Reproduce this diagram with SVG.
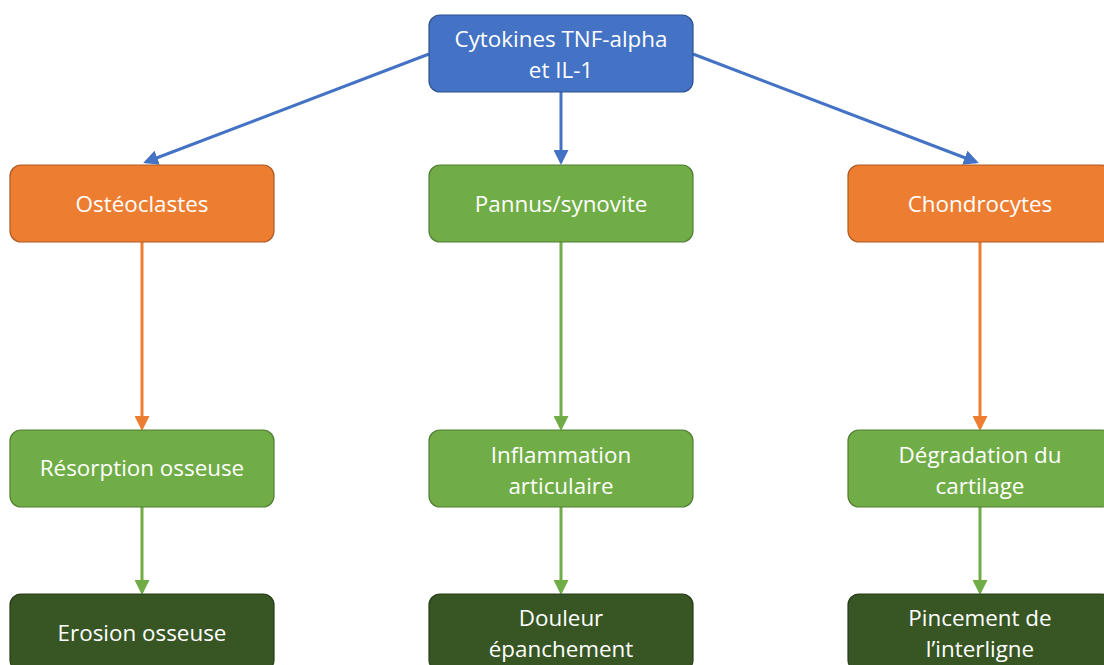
<svg xmlns="http://www.w3.org/2000/svg" width="1104" height="665" viewBox="0 0 1104 665">
<defs>
<style>
.n rect{stroke-width:1.2}
.blue{fill:#4472C4;stroke:#2F528F}
.orange{fill:#ED7D31;stroke:#AE5A21}
.green{fill:#70AD47;stroke:#507E32}
.dark{fill:#375623;stroke:#263D18}
text{font-family:"Open Sans","Liberation Sans",sans-serif;font-size:22.4px;fill:#ffffff;text-anchor:middle}
.c{fill:none;stroke-width:3}
</style>
<marker id="ab" markerWidth="5" markerHeight="5" refX="4" refY="2.5" orient="auto" markerUnits="strokeWidth"><path d="M0,0L5,2.5L0,5z" fill="#4472C4"/></marker>
<marker id="ao" markerWidth="5" markerHeight="5" refX="4" refY="2.5" orient="auto" markerUnits="strokeWidth"><path d="M0,0L5,2.5L0,5z" fill="#ED7D31"/></marker>
<marker id="ag" markerWidth="5" markerHeight="5" refX="4" refY="2.5" orient="auto" markerUnits="strokeWidth"><path d="M0,0L5,2.5L0,5z" fill="#70AD47"/></marker>
</defs>
<rect width="1104" height="665" fill="#ffffff"/>
<g id="connectors">
<path class="c" d="M429,54L146,162" stroke="#4472C4" marker-end="url(#ab)"/>
<path class="c" d="M561,92L561,162" stroke="#4472C4" marker-end="url(#ab)"/>
<path class="c" d="M693,54L976,162" stroke="#4472C4" marker-end="url(#ab)"/>
<path class="c" d="M142,242L142,428" stroke="#ED7D31" marker-end="url(#ao)"/>
<path class="c" d="M561,242L561,428" stroke="#70AD47" marker-end="url(#ag)"/>
<path class="c" d="M980,242L980,428" stroke="#ED7D31" marker-end="url(#ao)"/>
<path class="c" d="M142,507L142,592" stroke="#70AD47" marker-end="url(#ag)"/>
<path class="c" d="M561,507L561,592" stroke="#70AD47" marker-end="url(#ag)"/>
<path class="c" d="M980,507L980,592" stroke="#70AD47" marker-end="url(#ag)"/>
</g>
<g id="cytokines" class="n"><rect class="blue" x="429" y="15" width="264" height="77" rx="11"/><text x="561" y="47">Cytokines TNF-alpha</text><text x="561" y="78">et IL-1</text></g>
<g id="osteoclastes" class="n"><rect class="orange" x="10" y="165" width="264" height="77" rx="11"/><text x="142" y="212">Ostéoclastes</text></g>
<g id="pannus" class="n"><rect class="green" x="429" y="165" width="264" height="77" rx="11"/><text x="561" y="212">Pannus/synovite</text></g>
<g id="chondrocytes" class="n"><rect class="orange" x="848" y="165" width="264" height="77" rx="11"/><text x="980" y="212">Chondrocytes</text></g>
<g id="resorption" class="n"><rect class="green" x="10" y="430" width="264" height="77" rx="11"/><text x="142" y="476">Résorption osseuse</text></g>
<g id="inflammation" class="n"><rect class="green" x="429" y="430" width="264" height="77" rx="11"/><text x="561" y="463">Inflammation</text><text x="561" y="494">articulaire</text></g>
<g id="degradation" class="n"><rect class="green" x="848" y="430" width="264" height="77" rx="11"/><text x="980" y="463">Dégradation du</text><text x="980" y="494">cartilage</text></g>
<g id="erosion" class="n"><rect class="dark" x="10" y="594" width="264" height="77" rx="11"/><text x="142" y="641">Erosion osseuse</text></g>
<g id="douleur" class="n"><rect class="dark" x="429" y="594" width="264" height="77" rx="11"/><text x="561" y="626">Douleur</text><text x="561" y="657">épanchement</text></g>
<g id="pincement" class="n"><rect class="dark" x="848" y="594" width="264" height="77" rx="11"/><text x="980" y="626">Pincement de</text><text x="980" y="657">l’interligne</text></g>
</svg>
